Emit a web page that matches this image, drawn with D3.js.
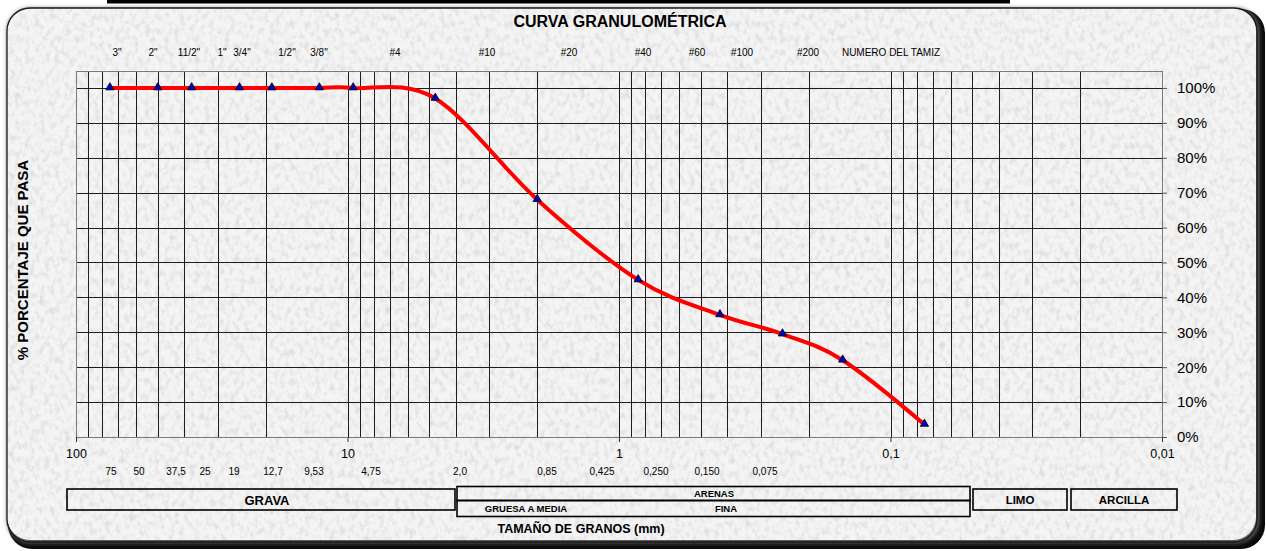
<!DOCTYPE html>
<head>
  <meta charset="utf-8" />
  <script src="https://d3js.org/d3.v7.min.js"></script>
  <style>
    body { margin: 0; background: #ffffff; }
    text { font-family: "Liberation Sans", Arial, sans-serif; fill: #000; }
  </style>
</head>
<body>
  <div id="curva"></div>
  <script>
    // datos del ensayo
    var tamanos = [75, 50, 37.5, 25, 19, 12.7, 9.53, 4.75, 2.0, 0.85, 0.425, 0.250, 0.150, 0.075];
    var pasa = [100, 100, 100, 100, 100, 100, 100, 97, 68, 45, 35, 29.5, 22, 3.6];

    // etiquetas
    var tamices = ['3"', '2"', '11/2"', '1"', '3/4"', '1/2"', '3/8"', "#4", "#10", "#20", "#40", "#60", "#100", "#200", "NUMERO DEL TAMIZ"];
    var aberturas = ["75", "50", "37,5", "25", "19", "12,7", "9,53", "4,75", "2,0", "0,85", "0,425", "0,250", "0,150", "0,075"];
    var decadas = [100, 10, 1, 0.1, 0.01];
    var decadasTxt = ["100", "10", "1", "0,1", "0,01"];
    var porcentajes = [0, 10, 20, 30, 40, 50, 60, 70, 80, 90, 100];

    // posicion de los textos (cuadros de texto colocados a mano)
    var tamicesX = [117, 153, 189, 222, 242, 287, 319, 395, 487, 569, 643, 697, 742, 808, 891];
    var aberturasX = [111, 139, 176, 205, 234, 273, 314, 371, 460, 547, 602, 656, 707, 765];

    const width = 1266, height = 551;
    const plot = { left: 76, right: 1162, top: 70.5, bottom: 437 };

    var svg = d3.select("#curva")
      .append("svg")
      .attr("width", width)
      .attr("height", height);

    var defs = svg.append("defs");

    // textura tipo marmol del fondo
    var filtro = defs.append("filter").attr("id", "marmol")
      .attr("x", 0).attr("y", 0).attr("width", "100%").attr("height", "100%");
    filtro.append("feTurbulence")
      .attr("type", "fractalNoise")
      .attr("baseFrequency", "0.2 0.14")
      .attr("numOctaves", 3)
      .attr("seed", 7);
    filtro.append("feColorMatrix")
      .attr("type", "matrix")
      .attr("values", "0 0 0 0 0.6  0 0 0 0 0.6  0 0 0 0 0.6  1.7 0 0 0 -0.76");
    filtro.append("feComposite").attr("in2", "SourceGraphic").attr("operator", "in");

    var blur = defs.append("filter").attr("id", "borde")
      .attr("x", "-5%").attr("y", "-5%").attr("width", "110%").attr("height", "110%");
    blur.append("feGaussianBlur").attr("stdDeviation", 2);

    // marco redondeado con sombra
    svg.append("rect")
      .attr("x", 8).attr("y", 9)
      .attr("width", 1257).attr("height", 540)
      .attr("rx", 24)
      .style("fill", "#0a0a0a");
    svg.append("rect")
      .attr("x", 7).attr("y", 8)
      .attr("width", 1252).attr("height", 535)
      .attr("rx", 23)
      .style("fill", "#6a6a6a")
      .attr("filter", "url(#borde)");
    svg.append("rect")
      .attr("x", 7).attr("y", 8)
      .attr("width", 1249).attr("height", 532)
      .attr("rx", 23)
      .style("fill", "#f4f4f4");
    svg.append("rect")
      .attr("x", 7).attr("y", 8)
      .attr("width", 1249).attr("height", 532)
      .attr("rx", 23)
      .style("fill", "#ffffff")
      .style("opacity", 0.8)
      .attr("filter", "url(#marmol)");
    svg.append("rect")
      .attr("x", 7).attr("y", 8)
      .attr("width", 1250).attr("height", 534)
      .attr("rx", 23)
      .style("fill", "none")
      .style("stroke", "#1a1a1a")
      .style("stroke-width", 1.3);

    // barra negra de arriba
    svg.append("rect")
      .attr("x", 107).attr("y", 0)
      .attr("width", 903).attr("height", 3.5)
      .style("fill", "#000");

    // escalas
    var x = d3.scaleLog().domain([100, 0.01]).range([plot.left, plot.right]);
    var y = d3.scaleLinear().domain([0, 105]).range([plot.bottom, plot.top]);

    // cuadricula
    var grid = svg.append("g").style("shape-rendering", "crispEdges");
    grid.selectAll(".vx")
      .data(x.ticks().filter(function (d) { return d < 100 && d > 0.01; }))
      .join("line")
      .attr("x1", function (d) { return Math.round(x(d)) + 0.5; })
      .attr("x2", function (d) { return Math.round(x(d)) + 0.5; })
      .attr("y1", plot.top)
      .attr("y2", plot.bottom)
      .style("stroke", "#1e1e1e")
      .style("stroke-width", 1);
    grid.selectAll(".hy")
      .data(porcentajes.filter(function (d) { return d > 0; }))
      .join("line")
      .attr("x1", plot.left)
      .attr("x2", plot.right)
      .attr("y1", function (d) { return Math.round(y(d)) + 0.5; })
      .attr("y2", function (d) { return Math.round(y(d)) + 0.5; })
      .style("stroke", "#1e1e1e")
      .style("stroke-width", 1);
    grid.append("rect")
      .attr("x", plot.left + 0.5).attr("y", Math.round(plot.top) + 0.5)
      .attr("width", plot.right - plot.left)
      .attr("height", plot.bottom - Math.round(plot.top))
      .style("fill", "none")
      .style("stroke", "#7a7a7a");

    // eje derecho (porcentaje)
    var ejeY = svg.append("g")
      .attr("transform", "translate(" + plot.right + ",0)")
      .call(d3.axisRight(y).tickValues(porcentajes).tickSize(5).tickPadding(10)
        .tickFormat(function (d) { return d + "%"; }));
    ejeY.select(".domain").remove();
    ejeY.selectAll("line").style("stroke", "#555");
    ejeY.selectAll("text").style("font-size", "15px");

    // eje inferior (decadas)
    var ejeX = svg.append("g")
      .attr("transform", "translate(0," + plot.bottom + ")")
      .call(d3.axisBottom(x).tickValues(decadas).tickSize(5).tickPadding(7)
        .tickFormat(function (d, i) { return decadasTxt[i]; }));
    ejeX.select(".domain").remove();
    ejeX.selectAll("line").style("stroke", "#333");
    ejeX.selectAll("text").style("font-size", "12.5px");

    // titulos
    svg.append("text")
      .attr("x", 620).attr("y", 27)
      .attr("text-anchor", "middle")
      .style("font-size", "16px").style("font-weight", "bold")
      .text("CURVA GRANULOMÉTRICA");

    svg.append("text")
      .attr("transform", "translate(28,260) rotate(-90)")
      .attr("text-anchor", "middle")
      .style("font-size", "15px").style("font-weight", "bold")
      .text("% PORCENTAJE QUE PASA");

    svg.append("text")
      .attr("x", 581).attr("y", 533)
      .attr("text-anchor", "middle")
      .style("font-size", "12.5px").style("font-weight", "bold")
      .text("TAMAÑO DE GRANOS (mm)");

    // nombres de tamices y aberturas
    svg.append("g").selectAll("text")
      .data(tamices)
      .join("text")
      .attr("x", function (d, i) { return tamicesX[i]; })
      .attr("y", 56)
      .attr("text-anchor", "middle")
      .style("font-size", "10px")
      .text(function (d) { return d; });

    svg.append("g").selectAll("text")
      .data(aberturas)
      .join("text")
      .attr("x", function (d, i) { return aberturasX[i]; })
      .attr("y", 475)
      .attr("text-anchor", "middle")
      .style("font-size", "10px")
      .text(function (d) { return d; });

    // cuadros de clasificacion
    var cuadros = svg.append("g").style("fill", "none").style("stroke", "#000").style("stroke-width", 1.6);
    cuadros.append("rect").attr("x", 67).attr("y", 489).attr("width", 388).attr("height", 21);
    cuadros.append("rect").attr("x", 457).attr("y", 486.5).attr("width", 513).attr("height", 14);
    cuadros.append("rect").attr("x", 457).attr("y", 500.5).attr("width", 513).attr("height", 16);
    cuadros.append("rect").attr("x", 973).attr("y", 489).attr("width", 94).attr("height", 21);
    cuadros.append("rect").attr("x", 1071).attr("y", 489).attr("width", 106).attr("height", 21);

    var cajas = [
      { t: "GRAVA", x: 267, y: 505, s: 13 },
      { t: "ARENAS", x: 714, y: 497, s: 9.5 },
      { t: "GRUESA A MEDIA", x: 526, y: 512, s: 9.5 },
      { t: "FINA", x: 726, y: 512, s: 9.5 },
      { t: "LIMO", x: 1020, y: 504, s: 11.5 },
      { t: "ARCILLA", x: 1124, y: 504, s: 11.5 }
    ];
    svg.append("g").selectAll("text")
      .data(cajas)
      .join("text")
      .attr("x", function (d) { return d.x; })
      .attr("y", function (d) { return d.y; })
      .attr("text-anchor", "middle")
      .style("font-weight", "bold")
      .style("font-size", function (d) { return d.s + "px"; })
      .text(function (d) { return d.t; });

    // curva granulometrica
    var puntos = tamanos.map(function (t, i) { return { t: t, p: pasa[i] }; });

    var linea = d3.line()
      .x(function (d) { return x(d.t); })
      .y(function (d) { return y(d.p); })
      .curve(d3.curveCardinal.tension(0));

    svg.append("path")
      .datum(puntos)
      .attr("d", linea)
      .style("fill", "none")
      .style("stroke", "#ff0000")
      .style("stroke-width", 4)
      .style("stroke-linejoin", "round");

    svg.append("g").selectAll("path")
      .data(puntos)
      .join("path")
      .attr("d", d3.symbol().type(d3.symbolTriangle).size(30))
      .attr("transform", function (d) { return "translate(" + x(d.t) + "," + (y(d.p) - 0.5) + ")"; })
      .style("fill", "#0000c8")
      .style("stroke", "#000")
      .style("stroke-width", 0.8);
  </script>
</body>
